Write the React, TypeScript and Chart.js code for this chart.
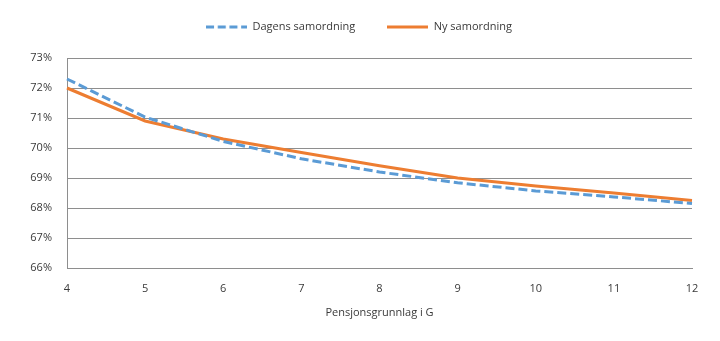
import React, { useEffect, useRef } from "react";
import { Chart, registerables } from "chart.js";

Chart.register(...registerables);

const categories = ["4", "5", "6", "7", "8", "9", "10", "11", "12"];
const dagensSamordning = [72.3, 71.03, 70.22, 69.64, 69.2, 68.84, 68.57, 68.37, 68.15];
const nySamordning = [72.0, 70.9, 70.3, 69.85, 69.41, 69.0, 68.73, 68.5, 68.25];
const yMin = 66;
const yMax = 73;
const xTitle = "Pensjonsgrunnlag i G";
const seriesNames = ["Dagens samordning", "Ny samordning"];

const FONT = "'Open Sans', 'Noto Sans', sans-serif";
const TEXT = "#3a3a3a";
const GRID = "#8e8e8e";
const BLUE = "#5B9BD5";
const ORANGE = "#ED7D31";

function legendSwatch(color: string, dash: number[]) {
  const c = document.createElement("canvas");
  c.width = 41;
  c.height = 4;
  const ctx = c.getContext("2d")!;
  ctx.strokeStyle = color;
  ctx.lineWidth = 3;
  ctx.setLineDash(dash);
  ctx.beginPath();
  ctx.moveTo(0, 2);
  ctx.lineTo(41, 2);
  ctx.stroke();
  return c;
}

const legendShift = {
  id: "legendShift",
  afterLayout(chart: any) {
    const lg = chart.legend;
    if (!lg) return;
    lg.top -= 15.5;
    lg.bottom -= 15.5;
    lg.left += 13;
    lg.right += 13;
  },
};

export default function App() {
  const ref = useRef<HTMLCanvasElement | null>(null);
  useEffect(() => {
    document.body.style.margin = "0";
    const canvas = ref.current;
    if (!canvas) return;
    const swatches = [legendSwatch(BLUE, [8, 3.7]), legendSwatch(ORANGE, [])];
    const chart = new Chart(canvas, {
      type: "line",
      data: {
        labels: categories,
        datasets: [
          {
            label: seriesNames[0],
            data: dagensSamordning,
            borderColor: BLUE,
            backgroundColor: BLUE,
            borderWidth: 3,
            borderDash: [9, 4],
            pointRadius: 0,
            tension: 0,
          },
          {
            label: seriesNames[1],
            data: nySamordning,
            borderColor: ORANGE,
            backgroundColor: ORANGE,
            borderWidth: 3,
            pointRadius: 0,
            tension: 0,
          },
        ],
      },
      plugins: [legendShift],
      options: {
        animation: false,
        responsive: false,
        maintainAspectRatio: false,
        layout: { padding: { left: 0, right: 28, top: 5, bottom: 22 } },
        plugins: {
          legend: {
            position: "top",
            labels: {
              usePointStyle: true,
              pointStyleWidth: 41,
              boxWidth: 41,
              padding: 32,
              color: TEXT,
              font: { family: FONT, size: 11 },
              generateLabels: (ch: any) => {
                const items = Chart.defaults.plugins.legend.labels.generateLabels(ch);
                return items.map((it: any, i: number) => ({ ...it, pointStyle: swatches[i] }));
              },
            },
          },
          tooltip: { enabled: false },
        },
        scales: {
          x: {
            type: "category",
            offset: false,
            grid: { display: false, drawTicks: false },
            border: { display: true, color: GRID, width: 1 },
            ticks: { color: TEXT, font: { family: FONT, size: 11 }, padding: 14, maxRotation: 0, autoSkip: false },
            title: {
              display: true,
              text: xTitle,
              color: TEXT,
              font: { family: FONT, size: 11 },
              padding: { top: 4, bottom: 0 },
            },
            afterFit: (scale: any) => {
              scale.height = 51;
            },
          },
          y: {
            min: yMin,
            max: yMax,
            grid: { color: GRID, lineWidth: 1, drawTicks: false },
            border: { display: true, color: GRID, width: 1 },
            ticks: {
              stepSize: 1,
              color: TEXT,
              font: { family: FONT, size: 11 },
              padding: 15,
              callback: (v: any) => `${v}%`,
            },
            afterFit: (scale: any) => {
              scale.width = 67;
            },
          },
        },
      },
    });
    return () => chart.destroy();
  }, []);
  return (
    <div style={{ width: 720, height: 341 }}>
      <canvas ref={ref} width={720} height={341} style={{ display: "block" }} />
    </div>
  );
}
